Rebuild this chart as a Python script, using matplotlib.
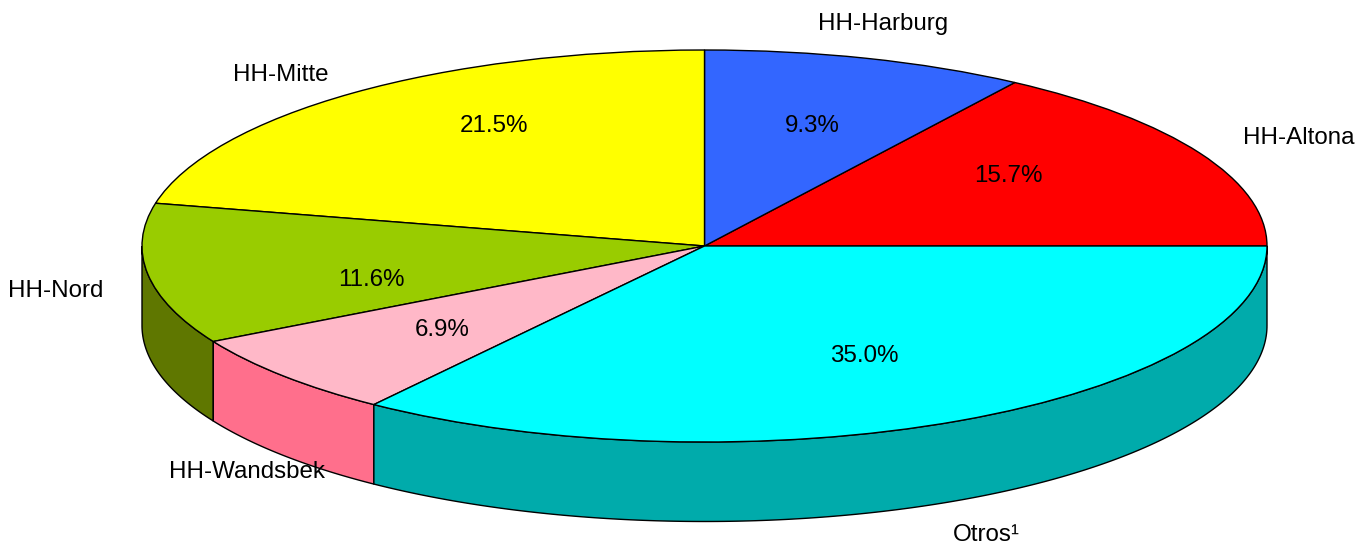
#!/usr/bin/env python3
import numpy as np
import matplotlib
matplotlib.use("Agg")
import matplotlib.pyplot as plt

plt.rcParams['font.family'] = ['Liberation Sans', 'DejaVu Sans']

districts = ["HH-Altona", "HH-Harburg", "HH-Mitte", "HH-Nord", "HH-Wandsbek", "Otros¹"]
shares = [15.7, 9.3, 21.5, 11.6, 6.9, 35.0]
top_colors = ["#ff0000", "#3366ff", "#ffff00", "#99cc00", "#ffb8c8", "#00ffff"]
side_colors = ["#aa0000", "#2244aa", "#aaaa00", "#5f7700", "#ff6f8c", "#00abab"]

# label anchors in picture pixels
name_xy = [(1299, 138), (883, 24), (281, 75), (56, 291), (247, 472), (986, 535)]
pct_xy = [(1008, 176), (812, 126), (494, 126), (371, 280), (442, 330), (864, 356)]

W, H = 1370, 551
CX, CY = 704.5, 246   # pie centre, pixels
RX, RY = 562.5, 196   # ellipse radii, pixels
DEPTH = 79.5 / RY     # wall height in pie units

fig = plt.figure(figsize=(W / 100, H / 100), dpi=100)
ax = fig.add_axes([0, 0, 1, 1])


def to_data(px, py):
    return (px - CX) / RX, (CY - py) / RY


# Side walls: only the front half of the rim is visible
edges = np.concatenate([[0], np.cumsum(shares)]) * 3.6
for i, color in enumerate(side_colors):
    a0, a1 = max(edges[i], 180), min(edges[i + 1], 360)
    if a1 <= a0:
        continue
    theta = np.radians(np.linspace(a0, a1, 200))
    xs = np.cos(theta)
    ys = np.sin(theta)
    ax.fill(np.r_[xs, xs[::-1]], np.r_[ys, ys[::-1] - DEPTH],
            facecolor=color, edgecolor="black", linewidth=1.0, zorder=1)

ax.pie(shares, colors=top_colors, startangle=0, counterclock=True, radius=1,
       wedgeprops={"edgecolor": "black", "linewidth": 1.0, "zorder": 2})

# pie() forces equal aspect, squash it into the ellipse
ax.set_aspect("auto")
ax.set_xlim(to_data(0, 0)[0], to_data(W, 0)[0])
ax.set_ylim(to_data(0, H)[1], to_data(0, 0)[1])
ax.axis("off")

for name, xy in zip(districts, name_xy):
    x, y = to_data(*xy)
    ax.text(x, y, name, fontsize=17.4, ha="center", va="center", color="black", zorder=5)

for share, xy in zip(shares, pct_xy):
    x, y = to_data(*xy)
    ax.text(x, y, f"{share:.1f}%", fontsize=17.4, ha="center", va="center", color="black", zorder=5)

fig.savefig("out.png", dpi=100)
